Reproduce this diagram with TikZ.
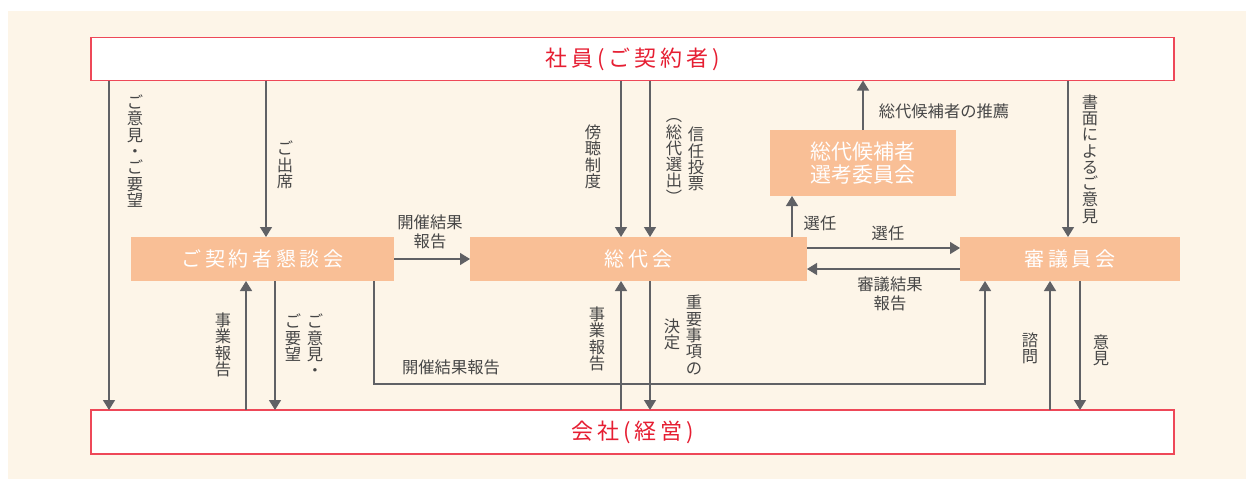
\documentclass[tikz,border=0pt]{standalone}
\usepackage{fontspec}
\usetikzlibrary{arrows.meta}
\newfontfamily\jp{Noto Sans CJK JP}
\newfontfamily\jpwide[LetterSpace=18]{Noto Sans CJK JP}
\newcommand{\bigfont}{\jpwide\fontsize{22}{24}\selectfont}
\newcommand{\midfont}{\jpwide\fontsize{20}{22}\selectfont}
\newcommand{\candfont}{\jp\fontsize{21}{23}\selectfont}
\newcommand{\labfont}{\jp\fontsize{16.3}{16.3}\selectfont}
\newcommand{\hlabfont}{\jp\fontsize{16.3}{19}\selectfont}
\definecolor{bgcream}{RGB}{253,245,232}
\definecolor{boxorange}{RGB}{249,191,150}
\definecolor{framered}{RGB}{238,72,88}
\definecolor{textred}{RGB}{230,30,50}
\definecolor{arrowgray}{RGB}{96,97,101}
\definecolor{labelgray}{RGB}{70,70,70}
\begin{document}
\begin{tikzpicture}[x=1pt, y=-1pt,
    mainbox/.style={draw=framered, line width=1.5pt, fill=white, minimum width=1083pt,
      minimum height=43pt, outer sep=0pt, inner sep=0pt, text=textred, font=\bigfont},
    orgbox/.style={fill=boxorange, outer sep=0pt, inner sep=0pt, text=white, font=\midfont},
    lab/.style={inner sep=0pt, text=labelgray, align=center, font=\labfont},
    hlab/.style={inner sep=0pt, text=labelgray, align=center, font=\hlabfont},
    arr/.style={draw=arrowgray, line width=1.4pt, -{Triangle[width=12pt,length=10pt]}}]
    \useasboundingbox (0,0) rectangle (1246,479);
    \fill[bgcream] (8,11) rectangle (1246,479);

    % boxes
    \node[mainbox] (member) at (632.5,59) {社員(ご契約者)};
    \node[mainbox, minimum height=44pt] (company) at (632.5,432) {会社(経営)};
    \node[orgbox, minimum width=263pt, minimum height=44pt] (kondan) at (262.5,259) {ご契約者懇談会};
    \node[orgbox, minimum width=337pt, minimum height=44pt] (sodai) at (638.5,259) {総代会};
    \node[orgbox, minimum width=220pt, minimum height=44pt] (shingi) at (1070,259) {審議員会};
    \node[orgbox, minimum width=186pt, minimum height=66pt, font=\candfont, align=center] (senko) at (863,163) {総代候補者\\選考委員会};

    % connector positions
    \coordinate (v1) at (109,0);
    \coordinate (v2) at (266,0);
    \coordinate (v3) at (246,0);
    \coordinate (v4) at (275,0);
    \coordinate (v5) at (374,0);
    \coordinate (v6) at (985,0);
    \coordinate (v7) at (621,0);
    \coordinate (v8) at (650,0);
    \coordinate (v9) at (792,0);
    \coordinate (v10) at (1068,0);
    \coordinate (v11) at (1050,0);
    \coordinate (v12) at (1080,0);
    \coordinate (h1) at (0,248);
    \coordinate (h2) at (0,269);

    % connectors
    \draw[arr] (member.south -| v1) -- (company.north -| v1);
    \draw[arr] (member.south -| v2) -- (kondan.north -| v2);
    \draw[arr] (kondan.east) -- (sodai.west);
    \draw[arr] (company.north -| v3) -- (kondan.south -| v3);
    \draw[arr] (kondan.south -| v4) -- (company.north -| v4);
    \draw[arr] (kondan.south -| v5) -- ++(0,103) -| (shingi.south -| v6);
    \draw[arr] (member.south -| v7) -- (sodai.north -| v7);
    \draw[arr] (member.south -| v8) -- (sodai.north -| v8);
    \draw[arr] (company.north -| v7) -- (sodai.south -| v7);
    \draw[arr] (sodai.south -| v8) -- (company.north -| v8);
    \draw[arr] (sodai.north -| v9) -- (senko.south -| v9);
    \draw[arr] (senko.north) -- (member.south -| senko.north);
    \draw[arr] (sodai.east |- h1) -- (shingi.west |- h1);
    \draw[arr] (shingi.west |- h2) -- (sodai.east |- h2);
    \draw[arr] (member.south -| v10) -- (shingi.north -| v10);
    \draw[arr] (company.north -| v11) -- (shingi.south -| v11);
    \draw[arr] (shingi.south -| v12) -- (company.north -| v12);

    % labels
    \node[lab] (opinion) at (135,151) {ご\\意\\見\\・\\ご\\要\\望};
    \node[lab] (attend) at (285,165) {ご\\出\\席};
    \node[hlab] (result) at (430,232) {開催結果\\報告};
    \node[lab] (report) at (223,345) {事\\業\\報\\告};
    \node[lab, anchor=north] (opinionb) at (315,314) {ご\\意\\見\\・};
    \node[lab, anchor=north] (request) at (293,314) {ご\\要\\望};
    \node[hlab] (resultb) at (451,367) {開催結果報告};
    \node[lab] (hearing) at (593,157) {傍\\聴\\制\\度};
    \node[lab] (vote) at (696,159) {信\\任\\投\\票};
    \node[lab] (votesub) at (674,161) {︵\\総\\代\\選\\出\\︶};
    \node[lab] (reportb) at (597,339) {事\\業\\報\\告};
    \node[lab] (decide) at (694,335) {重\\要\\事\\項\\の};
    \node[lab] (decideb) at (672,334) {決\\定};
    \node[hlab] (elect) at (820,223) {選任};
    \node[hlab] (recommend) at (944,111) {総代候補者の推薦};
    \node[hlab] (electb) at (888,233) {選任};
    \node[hlab] (review) at (890,294) {審議結果\\報告};
    \node[lab] (written) at (1090,159) {書\\面\\に\\よ\\る\\ご\\意\\見};
    \node[lab] (consult) at (1030,348) {諮\\問};
    \node[lab] (advice) at (1101,350) {意\\見};
\end{tikzpicture}
\end{document}
